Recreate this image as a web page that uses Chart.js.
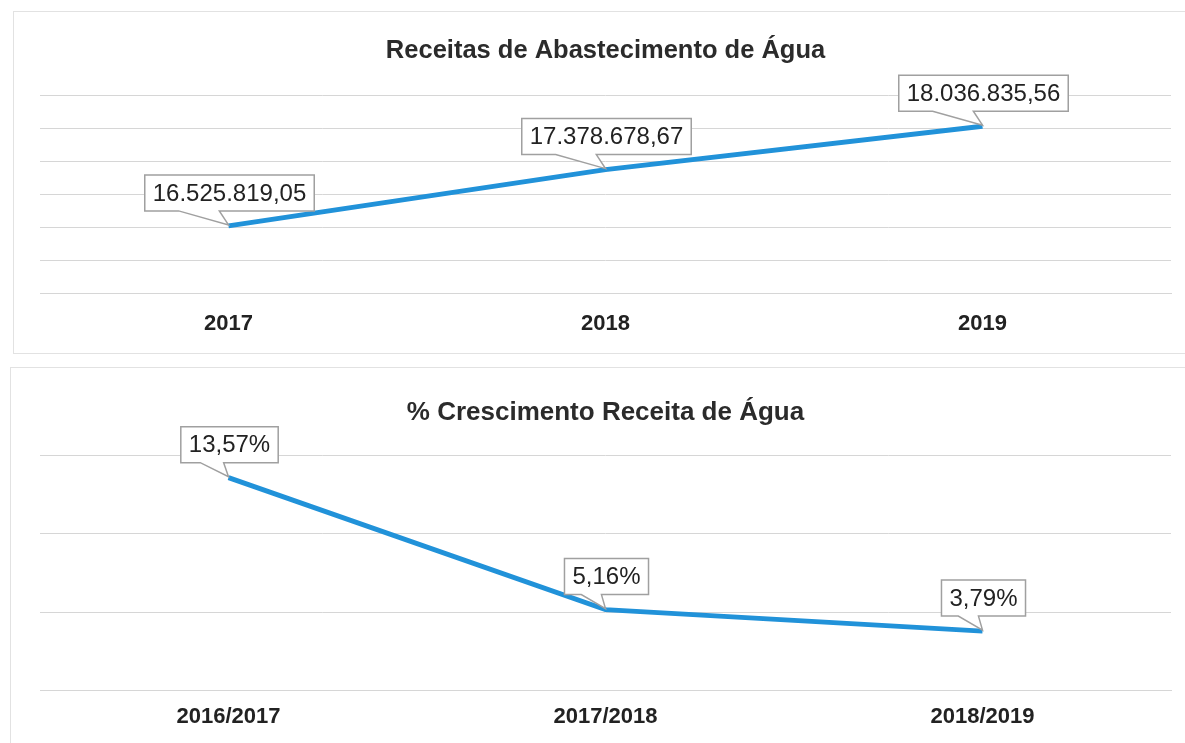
<!DOCTYPE html>
<html>
<head>
<meta charset="utf-8">
<script src="https://cdn.jsdelivr.net/npm/chart.js@4"></script>
<style>
  body { margin: 0; background: #fff; width: 1185px; height: 743px; overflow: hidden; position: relative; }
  .box { position: absolute; border: 1px solid #e2e2e2; box-sizing: border-box; }
  #box1 { left: 13px; top: 11px; width: 1180px; height: 343px; border-right: none; }
  #box2 { left: 10px; top: 367px; width: 1180px; height: 380px; border-right: none; border-bottom: none; }
  canvas { position: absolute; }
</style>
</head>
<body>
<div class="box" id="box1"></div>
<div class="box" id="box2"></div>
<canvas id="receitas" style="left:13px;top:11px"></canvas>
<canvas id="crescimento" style="left:10px;top:367px"></canvas>
<script>
var anos = ["2017", "2018", "2019"];
var receitas = [16525819.05, 17378678.67, 18036835.56];
var receitasLabels = ["16.525.819,05", "17.378.678,67", "18.036.835,56"];

var periodos = ["2016/2017", "2017/2018", "2018/2019"];
var crescimento = [13.57, 5.16, 3.79];
var crescimentoLabels = ["13,57%", "5,16%", "3,79%"];

var FONT = "'Liberation Sans', Arial, sans-serif";
var LINE_COLOR = "#2192d9";
var GRID_COLOR = "#d6d6d6";

// callout boxes like the excel data labels
var calloutPlugin = {
    id: "callouts",
    afterDatasetsDraw: function(chart, args, opts) {
        var ctx = chart.ctx;
        var meta = chart.getDatasetMeta(0);
        ctx.save();
        ctx.font = "24px " + FONT;
        meta.data.forEach(function(pt, i) {
            var text = opts.labels[i];
            var w = ctx.measureText(text).width + 16;
            var h = 36;
            var cx = pt.x + 1;
            var bottom = pt.y - 15;
            var left = cx - w / 2, top = bottom - h;
            var b1 = cx - w * 0.3, b2 = cx - w * 0.06;
            ctx.beginPath();
            ctx.moveTo(left, top);
            ctx.lineTo(left + w, top);
            ctx.lineTo(left + w, bottom);
            ctx.lineTo(b2, bottom);
            ctx.lineTo(pt.x, pt.y - 1);
            ctx.lineTo(b1, bottom);
            ctx.lineTo(left, bottom);
            ctx.closePath();
            ctx.fillStyle = "#fff";
            ctx.fill();
            ctx.strokeStyle = "#a0a0a0";
            ctx.lineWidth = 1.5;
            ctx.stroke();
            ctx.fillStyle = "#222";
            ctx.textAlign = "center";
            ctx.textBaseline = "middle";
            ctx.fillText(text, cx, top + h / 2 + 1);
        });
        ctx.restore();
    }
};

function makeChart(id, w, h, labels, values, valueLabels, title, yMin, yMax, yStep, pad) {
    var cv = document.getElementById(id);
    cv.width = w;
    cv.height = h;
    return new Chart(cv.getContext("2d"), {
        type: "line",
        data: {
            labels: labels,
            datasets: [{
                data: values,
                borderColor: LINE_COLOR,
                borderWidth: 5,
                pointRadius: 0,
                tension: 0,
                fill: false
            }]
        },
        options: {
            responsive: false,
            animation: false,
            layout: { padding: { top: pad.top, bottom: pad.bottom, left: pad.left, right: pad.right } },
            plugins: {
                legend: { display: false },
                tooltip: { enabled: false },
                title: {
                    display: true,
                    text: title,
                    color: "#2b2b2b",
                    font: { family: FONT, size: pad.titleSize, weight: "bold" },
                    padding: { top: 0, bottom: pad.title }
                },
                callouts: { labels: valueLabels }
            },
            scales: {
                x: {
                    offset: true,
                    grid: { display: false, drawTicks: false },
                    border: { color: GRID_COLOR },
                    ticks: {
                        color: "#222",
                        padding: pad.ticks,
                        font: { family: FONT, size: 22, weight: "bold" }
                    }
                },
                y: {
                    min: yMin,
                    max: yMax,
                    ticks: { display: false, stepSize: yStep },
                    grid: { color: GRID_COLOR, drawTicks: false },
                    border: { display: false }
                }
            }
        },
        plugins: [calloutPlugin]
    });
}

makeChart("receitas", 1172, 343, anos, receitas, receitasLabels,
    "Receitas de Abastecimento de Água", 15500000, 18500000, 500000,
    { top: 25, bottom: 0, left: 27, right: 14, title: 29, ticks: 17, titleSize: 25.5 });

makeChart("crescimento", 1175, 376, periodos, crescimento, crescimentoLabels,
    "% Crescimento Receita de Água", 0, 15, 5,
    { top: 30, bottom: 0, left: 30, right: 14, title: 27, ticks: 13, titleSize: 26 });
</script>
</body>
</html>
